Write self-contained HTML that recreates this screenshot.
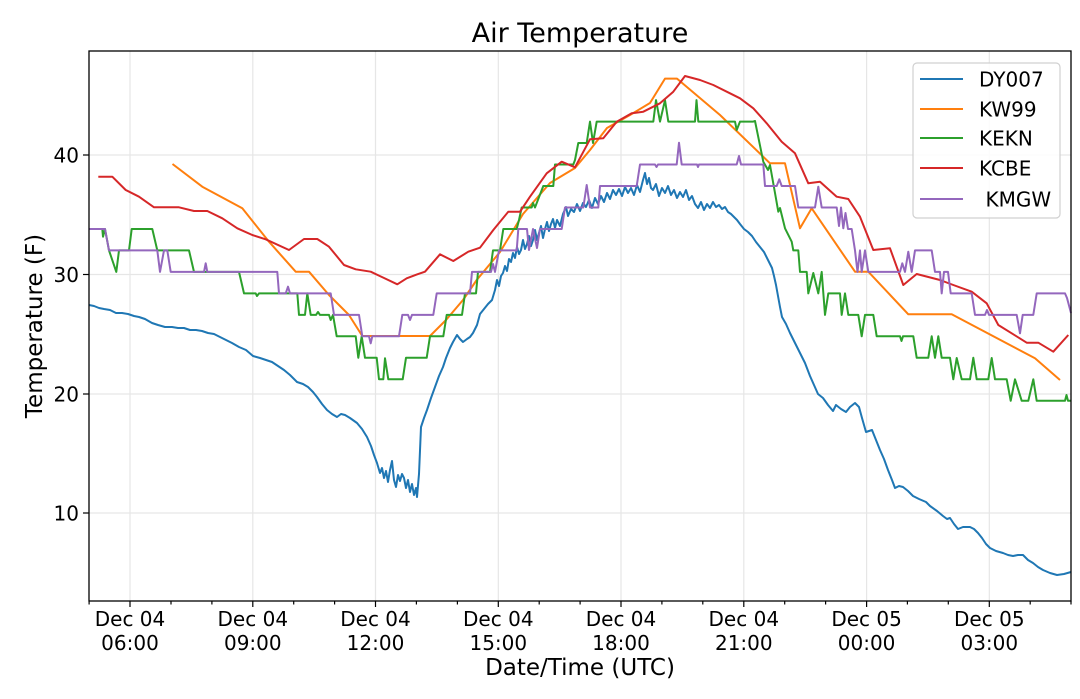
<!DOCTYPE html>
<html>
<head>
<meta charset="utf-8">
<style>
html,body{margin:0;padding:0;background:#fff;}
svg{display:block;}
text{font-family:"DejaVu Sans","Liberation Sans",sans-serif;fill:#000;}
</style>
</head>
<body>
<svg width="1080" height="699" viewBox="0 0 1080 699" xmlns="http://www.w3.org/2000/svg">
<rect width="1080" height="699" fill="#fff"/>
<!-- grid -->
<g stroke="#e6e6e6" stroke-width="1.2">
<line x1="130.0" y1="51" x2="130.0" y2="601"/>
<line x1="252.8" y1="51" x2="252.8" y2="601"/>
<line x1="375.5" y1="51" x2="375.5" y2="601"/>
<line x1="498.3" y1="51" x2="498.3" y2="601"/>
<line x1="621.0" y1="51" x2="621.0" y2="601"/>
<line x1="743.8" y1="51" x2="743.8" y2="601"/>
<line x1="866.6" y1="51" x2="866.6" y2="601"/>
<line x1="989.3" y1="51" x2="989.3" y2="601"/>
<line x1="89" y1="155" x2="1071" y2="155"/>
<line x1="89" y1="274.5" x2="1071" y2="274.5"/>
<line x1="89" y1="394" x2="1071" y2="394"/>
<line x1="89" y1="513" x2="1071" y2="513"/>
</g>
<g fill="none" stroke-width="2" stroke-linejoin="round">
<!-- DY007 -->
<polyline stroke="#1f77b4" points="89,305 94,306 99,308 104,309 110,310 116,313 122,313 128,314 134,316 139,317 145,319 152,323 158,325 165,327 172,327 178,328 184,328 190,330 196,330 202,331 208,333 214,334 220,337 226,340 232,343 239,347 246,350 253,356 260,358 266,360 272,362 278,366 284,370 290,375 297,382 303,384 308,387 313,392 317,397 322,404 327,410 332,414 337,417 341,414 345,415 350,418 357,423 362,429 367,437 371,446 374,455 377,463 380,473 382,468 384,478 386,471 388,482 390,470 392,461 394,480 396,487 398,475 400,481 402,474 404,478 406,488 408,480 410,492 412,484 414,495 416,488 417,497 419,474 421,427 424,418 427,410 431,398 435,387 439,376 443,367 446,358 450,348 453,342 457,335 460,339 463,342 467,339 470,337 473,333 477,325 480,314 484,309 488,304 492,300 495,290 497,280 499,286 501,276 503,273 505,266 507,271 509,259 511,262 513,253 515,258 517,247 519,254 521,250 523,240 525,249 527,244 529,236 531,246 533,240 535,230 537,240 539,233 541,226 543,238 545,229 547,222 549,231 551,224 553,219 555,228 557,220 560,226 563,214 566,207 568,216 571,209 574,212 577,204 580,211 583,203 586,207 589,200 592,208 595,198 598,204 601,196 604,202 607,193 610,199 613,190 616,195 619,189 622,196 625,187 628,193 631,188 634,195 637,185 640,192 643,180 645,173 647,184 649,178 651,188 653,190 656,184 659,196 662,188 665,193 668,186 671,195 674,190 677,198 680,192 683,197 686,190 689,200 692,196 695,204 698,208 701,202 704,210 707,204 710,208 713,202 716,207 719,205 722,209 725,207 728,212 731,214 734,217 737,220 740,224 744,229 748,232 752,236 756,242 760,247 764,252 768,260 772,268 774,276 776,285 778,296 780,307 782,317 786,324 790,333 795,343 800,353 805,363 810,376 814,385 818,394 823,398 828,405 833,411 836,405 841,409 846,412 850,407 855,403 859,407 862,418 866,432 869,431 872,430 876,440 880,450 884,459 888,470 892,480 895,488 899,486 903,487 908,491 913,496 919,499 926,502 930,506 937,511 943,516 947,519 950,518 954,524 958,529 963,527 970,527 974,529 978,533 982,538 986,544 990,548 996,551 1003,553 1008,555 1013,556 1018,555 1023,555 1028,560 1033,563 1038,567 1043,570 1050,573 1057,575 1064,574 1071,572"/>
<!-- KW99 -->
<polyline stroke="#ff7f0e" points="172.5,164 202.3,186.7 242.3,208.3 269,241.7 295.7,271.7 309,271.7 329,295 349,315 362.3,336 430,336 446,320 463,300 476.7,280 500,252 523,214 550,183 575,168 590,150 607,128 630,115 650,103 665,78.6 677,78.6 720,115 770,163.3 785,163.3 800,228.3 811.7,208.3 855,271.7 868.3,271.7 908.3,314.3 951.7,314.3 1035,358.3 1060,380"/>
<!-- KEKN -->
<polyline stroke="#2ca02c" points="89,229 102.3,229 103,236.7 105,229 109,250.4 116.3,271.9 119,250.4 129,250.4 131.7,229 152.3,229 157.3,250.4 189,250.4 194,271.9 239,271.9 244,293.4 255.7,293.4 257,296 259,293.4 275.7,293.4 297.3,293.4 299,314.9 305,314.9 307.3,293.4 310.7,314.9 316,314.9 318,312 320,314.9 329,314.9 330.7,320 333,314.9 336.7,336.3 355.7,336.3 358.3,357.8 361.7,336.3 365,357.8 376.7,357.8 379,379.3 383.3,379.3 385,358.3 388.3,379.3 402.7,379.3 406,357.8 426.7,357.8 430,336.3 443.3,336.3 446.7,314.9 462,314.9 465,293.4 476,293.4 478,271.9 490,271.9 493,250.4 500,250.4 503.3,229 516.7,229 519,220 521.7,207.5 531.7,207.5 533,203 535,207.5 543.3,186 553.3,186 555,164.5 573.3,164.5 575,160 578.3,143 586.7,143 590,121.6 593,143 596.7,121.6 653.3,121.6 656,100.1 660,121.6 665,100.1 668.3,121.6 695,121.6 696.5,100.1 698.3,121.6 735,121.6 736.7,130 740,121.6 753.3,121.6 755,121 763.3,161.7 768,170 770,165 775,193 778.3,211.7 780,208 785,228.3 791.7,241.7 793.3,250.4 798.3,250.4 800,271.9 806.7,271.9 808.3,293.4 813.3,273 818.3,293.4 821.7,271.9 825,314.9 828.3,293.4 840,293.4 841.7,314.9 845,293.4 848.3,314.9 858.3,314.9 861.7,336.3 865,314.9 873.3,314.9 876.7,336.3 900,336.3 901.5,341 903,336.3 913.3,336.3 916.7,357.8 928.3,357.8 931.7,336.3 935,357.8 938.3,336.3 941.7,357.8 950,357.8 953.3,379.3 956.7,358 961.7,379.3 970,379.3 973.3,357.8 976.7,379.3 988.3,379.3 991.7,358 995,379.3 1006.7,379.3 1010.7,400.8 1015,379.3 1021.7,400.8 1028.3,400.8 1033.3,379.3 1036.7,400.8 1065,400.8 1066.5,395 1068,400.8 1071,400.8"/>
<!-- KCBE -->
<polyline stroke="#d62728" points="98.3,176.7 112.3,176.7 125.7,190 139,196.7 154,207.3 179,207.3 194,211 207.3,211 222.3,218.3 237.3,228.3 252.3,235 265.7,239.3 289,250 304,239 317.3,239 329,246.7 344,265 355.7,269.3 370.7,271.7 397.3,284.3 406.7,278.3 417.3,274.3 425,271.7 440,254.3 453.3,261 468.3,251.7 480,247.7 493.3,230 508.3,211.7 520,211.7 530,196.7 546.7,173.3 561.7,161.7 575,167.3 590,139.3 603.3,138.3 616.7,121.7 631.7,113.3 643.3,111.7 660,103.3 673.3,91.7 685,76 700,80 713.3,85 730,93.3 740,98.3 753.3,108.3 766.7,123.3 781.7,141.7 795,153.3 808.3,183.3 820,181.7 836.7,196.7 848.3,199 860,216.7 873.3,250 890,248.3 903.3,285 916.7,274 940,280 953.3,285 971.7,291.7 986.7,303.3 998.3,325 1011.7,333.3 1026.7,342.7 1038.3,342.7 1053.3,351.7 1068.3,335"/>
<!-- KMGW -->
<polyline stroke="#9467bd" points="89,229 105,229 109,250.4 157.3,250.4 160,271.9 164,250.4 167.3,250.4 170.7,271.9 204,271.9 205.7,263.3 207.3,271.9 277.3,271.9 279,293.4 285.7,293.4 288,286.7 290,293.4 330.7,293.4 334,314.9 359,314.9 362.3,336.3 369,336.3 370.7,343.3 372.3,336.3 399,336.3 402.3,314.9 408,314.9 410,320 412,314.9 433.3,314.9 436.7,293.4 470,293.4 472,271.9 491,271.9 493,264 495,271.9 499,250.4 516.7,250.4 518.3,229 527,229 529,250 533,229 537,248 540,229 561.7,229 565,207.5 583.3,207.5 586.7,185 590,207.5 598.3,207.5 600,186 636.7,186 640,164.5 655,164.5 656.5,167 658,164.5 676.7,164.5 679,142.7 681.7,164.5 697,164.5 698,167 699,164.5 736.7,164.5 739,156 741,164.5 763.3,164.5 765,186 776.7,186 779.3,179.3 781.7,186 795,186 798.3,207.5 815,207.5 818.3,186.7 821.7,207.5 836.7,207.5 839,226 841,207.5 843.3,228.3 845.5,213 848,229 851.7,229 855,250.4 857.5,271.9 860,250.4 861.7,271.9 865,250.4 868.3,271.9 900,271.9 902.3,263.3 905,271.9 908.3,251.7 911.7,271.9 915,250.4 931.7,250.4 935,271.9 940,271.9 941.7,293.4 944,271.9 948,271.9 950.7,293.4 971.7,293.4 975,314.9 985,314.9 987,310 989,314.9 1016.7,314.9 1020,333.3 1022.7,314.9 1033.3,314.9 1036.7,293.4 1065,293.4 1067,298 1071,313"/>
</g>
<!-- spines -->
<rect x="89" y="51" width="982" height="550" fill="none" stroke="#000" stroke-width="1.3"/>
<!-- x ticks -->
<g stroke="#000" stroke-width="1.2">
<line x1="130.0" y1="601" x2="130.0" y2="607"/>
<line x1="252.8" y1="601" x2="252.8" y2="607"/>
<line x1="375.5" y1="601" x2="375.5" y2="607"/>
<line x1="498.3" y1="601" x2="498.3" y2="607"/>
<line x1="621.0" y1="601" x2="621.0" y2="607"/>
<line x1="743.8" y1="601" x2="743.8" y2="607"/>
<line x1="866.6" y1="601" x2="866.6" y2="607"/>
<line x1="989.3" y1="601" x2="989.3" y2="607"/>
<line x1="89.1" y1="601" x2="89.1" y2="604.5"/>
<line x1="171" y1="601" x2="171" y2="604.5"/>
<line x1="211.9" y1="601" x2="211.9" y2="604.5"/>
<line x1="293.7" y1="601" x2="293.7" y2="604.5"/>
<line x1="334.6" y1="601" x2="334.6" y2="604.5"/>
<line x1="416.4" y1="601" x2="416.4" y2="604.5"/>
<line x1="457.4" y1="601" x2="457.4" y2="604.5"/>
<line x1="539.2" y1="601" x2="539.2" y2="604.5"/>
<line x1="580.1" y1="601" x2="580.1" y2="604.5"/>
<line x1="661.9" y1="601" x2="661.9" y2="604.5"/>
<line x1="702.8" y1="601" x2="702.8" y2="604.5"/>
<line x1="784.7" y1="601" x2="784.7" y2="604.5"/>
<line x1="825.6" y1="601" x2="825.6" y2="604.5"/>
<line x1="907.4" y1="601" x2="907.4" y2="604.5"/>
<line x1="948.3" y1="601" x2="948.3" y2="604.5"/>
<line x1="1030.2" y1="601" x2="1030.2" y2="604.5"/>
<line x1="1071" y1="601" x2="1071" y2="604.5"/>
<line x1="83" y1="155" x2="89" y2="155"/>
<line x1="83" y1="274.5" x2="89" y2="274.5"/>
<line x1="83" y1="394" x2="89" y2="394"/>
<line x1="83" y1="513" x2="89" y2="513"/>
</g>
<!-- tick labels -->
<g font-size="20" text-anchor="middle">
<text x="130" y="626">Dec 04</text><text x="130" y="650">06:00</text>
<text x="252.8" y="626">Dec 04</text><text x="252.8" y="650">09:00</text>
<text x="375.5" y="626">Dec 04</text><text x="375.5" y="650">12:00</text>
<text x="498.3" y="626">Dec 04</text><text x="498.3" y="650">15:00</text>
<text x="621" y="626">Dec 04</text><text x="621" y="650">18:00</text>
<text x="743.8" y="626">Dec 04</text><text x="743.8" y="650">21:00</text>
<text x="866.6" y="626">Dec 05</text><text x="866.6" y="650">00:00</text>
<text x="989.3" y="626">Dec 05</text><text x="989.3" y="650">03:00</text>
</g>
<g font-size="20" text-anchor="end">
<text x="79" y="162.3">40</text>
<text x="79" y="281.8">30</text>
<text x="79" y="401.3">20</text>
<text x="79" y="520.3">10</text>
</g>
<!-- labels -->
<text x="580" y="42" font-size="27" text-anchor="middle">Air Temperature</text>
<text x="580" y="675" font-size="23" text-anchor="middle">Date/Time (UTC)</text>
<text transform="translate(42,326) rotate(-90)" font-size="23" text-anchor="middle">Temperature (F)</text>
<!-- legend -->
<rect x="913" y="63" width="147" height="155" rx="4" ry="4" fill="#fff" fill-opacity="0.85" stroke="#d0d0d0" stroke-width="1.2"/>
<g stroke-width="2">
<line x1="920" y1="79" x2="963" y2="79" stroke="#1f77b4"/>
<line x1="920" y1="109" x2="963" y2="109" stroke="#ff7f0e"/>
<line x1="920" y1="138" x2="963" y2="138" stroke="#2ca02c"/>
<line x1="920" y1="168" x2="963" y2="168" stroke="#d62728"/>
<line x1="920" y1="199" x2="963" y2="199" stroke="#9467bd"/>
</g>
<g font-size="20">
<text x="979" y="86.3">DY007</text>
<text x="979" y="116.3">KW99</text>
<text x="979" y="145.3">KEKN</text>
<text x="979" y="175.3">KCBE</text>
<text x="985.5" y="206.3">KMGW</text>
</g>
</svg>
</body>
</html>
